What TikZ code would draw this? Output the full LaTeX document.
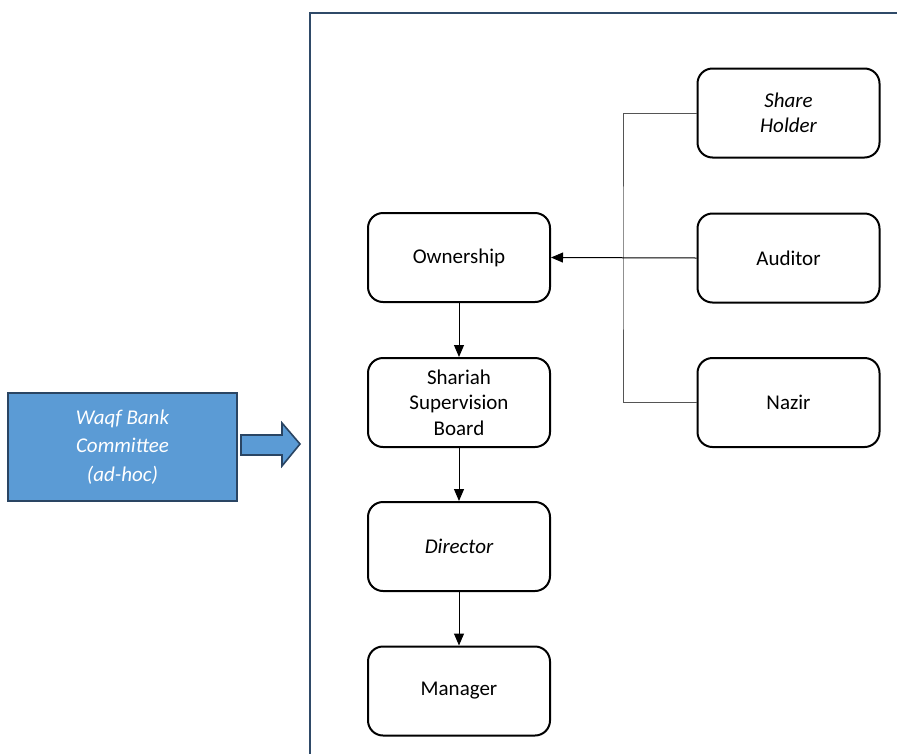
\documentclass[tikz,border=0pt]{standalone}
\usepackage{fontspec}
\setmainfont{Carlito}
\usetikzlibrary{arrows.meta}
\definecolor{frameblue}{HTML}{2F4A68}
\definecolor{fillblue}{HTML}{5B9BD5}
\definecolor{edgeblue}{HTML}{2A4563}
\definecolor{conngray}{HTML}{555555}
\tikzset{
  box/.style={draw=black, line width=2pt, rounded corners=15pt, fill=white,
    minimum width=182pt, minimum height=89pt, align=center, inner sep=0pt,
    font=\fontsize{21}{25.5}\selectfont},
  arr/.style={draw=black, line width=1pt, -{Triangle[length=12pt,width=10pt]}},
  conn/.style={draw=conngray, line width=1pt},
}
\begin{document}
\begin{tikzpicture}[x=1pt,y=-1pt]
\useasboundingbox (0,0) rectangle (897,753);
% frame
\draw[frameblue, line width=2.4pt] (310,760) -- (310,13) -- (905,13);
% left committee box
\node[draw=edgeblue, line width=2pt, fill=fillblue, text=white,
  minimum width=229pt, minimum height=108pt, align=center, inner sep=0pt,
  font=\fontsize{21}{28.5}\selectfont\itshape] (wq) at (122.5,447) {Waqf Bank\\Committee\\(ad-hoc)};
% block arrow
\draw[edgeblue, line width=1.6pt, fill=fillblue, line join=miter]
  (241,435) -- (282,435) -- (282,423) -- (300,444) -- (282,466) -- (282,455) -- (241,455) -- cycle;
% hierarchy boxes
\node[box] (ow) at (459,257.5) {\raisebox{-2pt}{Ownership}};
\node[box] (sb) at (459,402.5) {Shariah\\Supervision\\Board};
\node[box] (di) at (459,546.5) {\raisebox{-2pt}{\itshape Director}};
\node[box] (mg) at (459,691) {\raisebox{-2pt}{Manager}};
\node[box] (sh) at (788.5,113) {\itshape Share\\\itshape Holder};
\node[box] (au) at (788.5,258) {\raisebox{-2pt}{Auditor}};
\node[box] (nz) at (788.5,402.5) {\raisebox{-2pt}{Nazir}};
% connectors
\coordinate (jx) at (623,258);
\draw[conn] (sh.west) -| (jx) |- (nz.west);
\draw[arr] (au.west) -- (ow.east);
\draw[arr] (ow.south) -- (sb.north);
\draw[arr] (sb.south) -- (di.north);
\draw[arr] (di.south) -- (mg.north);
\end{tikzpicture}
\end{document}
